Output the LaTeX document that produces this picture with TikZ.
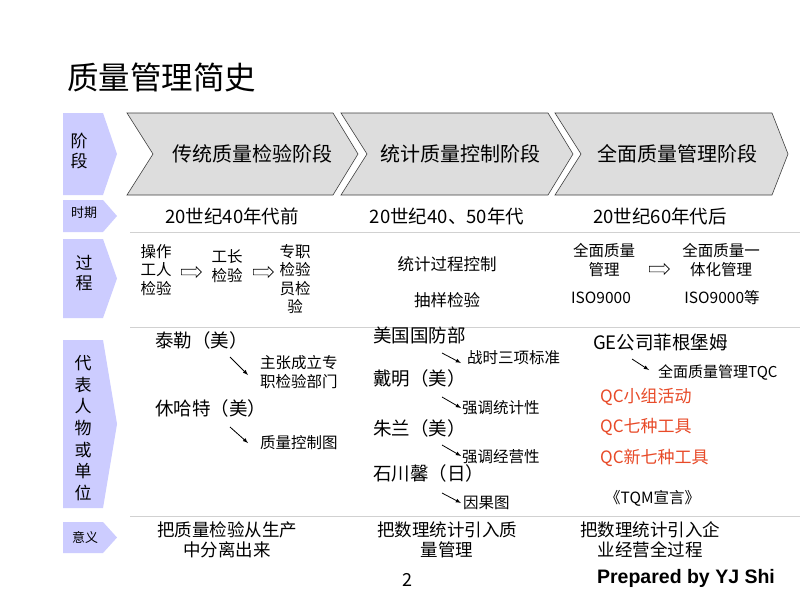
\documentclass[tikz,border=0pt]{standalone}
\usepackage{fontspec}
\setmainfont{Noto Sans CJK SC}
\newfontfamily\latinbold{Liberation Sans}
\usepackage{tikz}
\usetikzlibrary{arrows,shapes.arrows}

\definecolor{tabblue}{RGB}{204,204,255}
\definecolor{chevgray}{RGB}{221,221,221}
\definecolor{qcred}{RGB}{232,74,40}

\begin{document}
\begin{tikzpicture}[x=1pt,y=-1pt,
  tab/.style={fill=tabblue},
  tabtext/.style={inner sep=0pt, align=center, font=\fontsize{17}{20}\selectfont},
  tabsmall/.style={inner sep=0pt, font=\fontsize{13}{15}\selectfont},
  stage/.style={draw=black!75, fill=chevgray, line width=0.6pt},
  stagetext/.style={font=\fontsize{20}{24}\selectfont},
  era/.style={font=\fontsize{18.5}{22}\selectfont},
  proc/.style={inner sep=0pt, align=center, font=\fontsize{15.5}{18.5}\selectfont},
  hollow/.style={single arrow, draw, line width=0.6pt, minimum height=20pt,
    inner xsep=0pt, inner ysep=2.5pt, single arrow head extend=2.5pt},
  person/.style={anchor=west, inner sep=0pt, font=\fontsize{18.5}{22}\selectfont},
  note/.style={anchor=west, inner sep=0pt, align=left, font=\fontsize{15.5}{19}\selectfont},
  qc/.style={anchor=west, inner sep=0pt, text=qcred, font=\fontsize{17}{20}\selectfont},
  pointer/.style={-latex, line width=0.8pt},
  sense/.style={align=center, inner sep=0pt, font=\fontsize{17.5}{20}\selectfont},
  rule/.style={draw=black!18, line width=0.8pt}
]
\useasboundingbox (0,0) rectangle (800,600);
\fill[white] (0,0) rectangle (800,600);

\node[anchor=west, inner sep=0pt, font=\fontsize{31.5}{36}\selectfont] (title) at (67,77) {质量管理简史};

% row labels
\foreach \t/\b in {113/195, 200/232, 239/318, 340/508, 522/553}
  \fill[tab] (63,\t) -- (103,\t) -- (117,{(\t+\b)/2}) -- (103,\b) -- (63,\b) -- cycle;
\node[tabtext] (tStage) at (79,151) {阶\\段};
\node[tabsmall] (tEra) at (84,213) {时期};
\node[tabtext] (tProc) at (84,273) {过\\程};
\node[tabtext, font=\fontsize{17}{21.7}\selectfont] (tRep) at (83,428) {代\\表\\人\\物\\或\\单\\位};
\node[tabsmall] (tSense) at (85,537) {意义};

% stages
\foreach \l/\r/\d/\x/\n [count=\i] in {127/333/25/252/传统质量检验阶段,
    341/548/25/460/统计质量控制阶段, 555/772/16/677/全面质量管理阶段} {
  \draw[stage] (\l,113) -- (\r,113) -- (\r+\d,154) -- (\r,195) -- (\l,195) -- (\l+26,154) -- cycle;
  \node[stagetext] (stage\i) at (\x,154) {\n};
}

\foreach \y in {232,327,516}
  \draw[rule] (130,\y) -- (800,\y);

% era
\node[era] (era1) at (232,216) {20世纪40年代前};
\node[era] (era2) at (447,216) {20世纪40、50年代};
\node[era] (era3) at (660,216) {20世纪60年代后};

% process
\node[proc] (worker) at (156,270) {操作\\工人\\检验};
\node[hollow] (h1) at (190,272) {};
\node[proc] (foreman) at (227,266) {工长\\检验};
\node[hollow] (h2) at (262,272) {};
\node[proc] (inspector) at (295,279) {专职\\检验\\员检\\验};
\node[proc, font=\fontsize{16.5}{20}\selectfont] (spc) at (447,264) {统计过程控制};
\node[proc, font=\fontsize{16.5}{20}\selectfont] (sampling) at (447,300) {抽样检验};
\node[proc] (tqm) at (604,260) {全面质量\\管理};
\node[hollow] (h3) at (658,269) {};
\node[proc] (itqm) at (721,260) {全面质量一\\体化管理};
\node[proc] (iso1) at (601,298) {ISO9000};
\node[proc] (iso2) at (722,298) {ISO9000等};

% people
\node[person] (taylor) at (155,340) {泰勒（美）};
\node[note] (claim) at (260,372) {主张成立专\\职检验部门};
\node[person] (shewhart) at (155,408) {休哈特（美）};
\node[note] (chart) at (260,443) {质量控制图};
\node[person] (dod) at (373,335) {美国国防部};
\node[note] (wartime) at (467,358) {战时三项标准};
\node[person] (deming) at (373,378) {戴明（美）};
\node[note] (stat) at (462,408) {强调统计性};
\node[person] (juran) at (373,428) {朱兰（美）};
\node[note] (mgmt) at (462,457) {强调经营性};
\node[person] (ishikawa) at (373,473) {石川馨（日）};
\node[note] (fishbone) at (463,503) {因果图};
\node[person] (ge) at (593,342) {GE公司菲根堡姆};
\node[note, font=\fontsize{15}{18}\selectfont] (tqc) at (658,372) {全面质量管理TQC};
\node[qc] (qc1) at (600,397) {QC小组活动};
\node[qc] (qc2) at (600,427) {QC七种工具};
\node[qc] (qc3) at (600,458) {QC新七种工具};
\node[note] (manifesto) at (605,498) {《TQM宣言》};

\coordinate (p1) at (230,357);
\coordinate (p2) at (230,427);
\coordinate (p3) at (442,353);
\coordinate (p4) at (442,397);
\coordinate (p5) at (442,445);
\coordinate (p6) at (442,493);
\coordinate (p7) at (632,359);
\draw[pointer] (p1) -- ([xshift=-12pt,yshift=-3pt]claim.west);
\draw[pointer] (p2) -- ([xshift=-12pt]chart.west);
\draw[pointer] (p3) -- ([xshift=-6pt,yshift=-5pt]wartime.west);
\draw[pointer] (p4) -- ([xshift=-1pt]stat.west);
\draw[pointer] (p5) -- ([xshift=-1pt,yshift=1pt]mgmt.west);
\draw[pointer] (p6) -- ([xshift=-2pt]fishbone.west);
\draw[pointer] (p7) -- ([xshift=-9pt,yshift=2pt]tqc.west);

% meaning
\node[sense] (sense1) at (227,540) {把质量检验从生产\\中分离出来};
\node[sense] (sense2) at (447,540) {把数理统计引入质\\量管理};
\node[sense] (sense3) at (650,540) {把数理统计引入企\\业经营全过程};

\node[font=\fontsize{18}{20}\selectfont] (page) at (407,580) {2};
\node[font=\latinbold\bfseries\fontsize{19.5}{22}\selectfont] (author) at (686,578) {Prepared by YJ Shi};
\end{tikzpicture}
\end{document}
